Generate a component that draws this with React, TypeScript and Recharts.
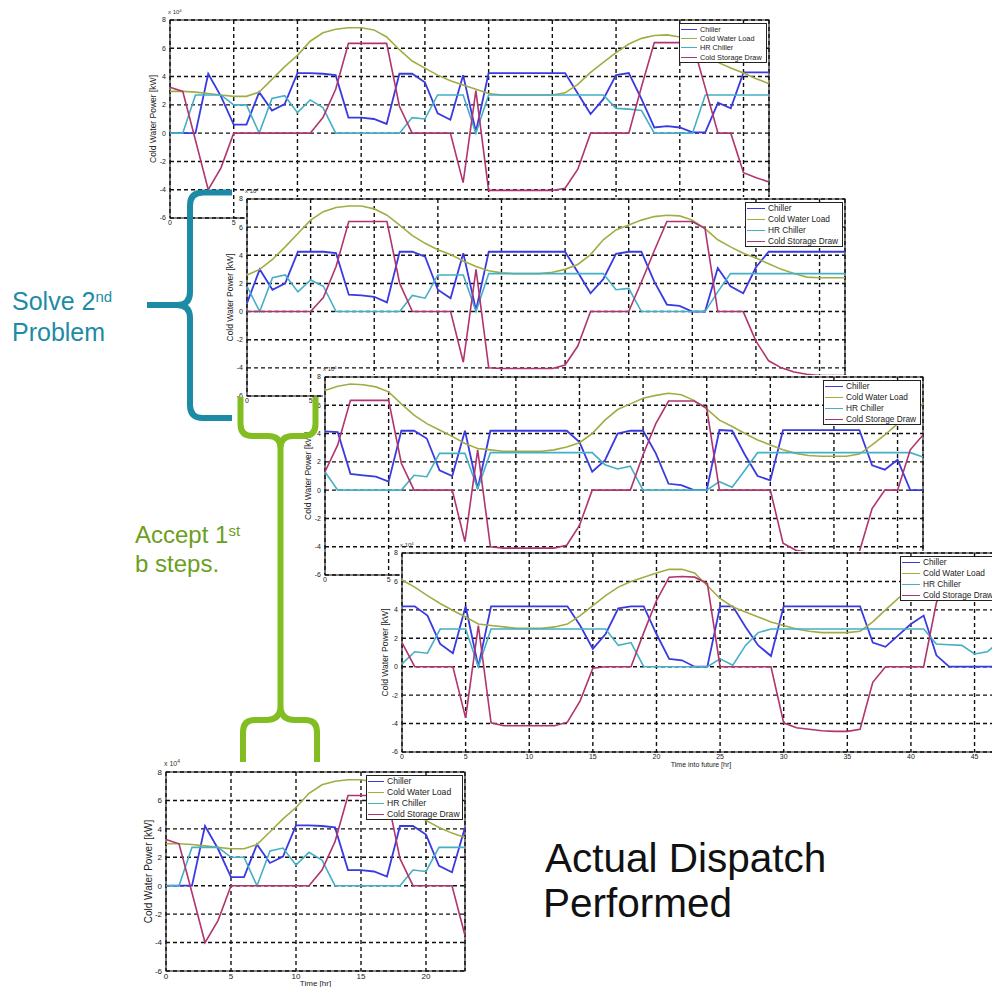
import React from 'react';
import { LineChart, Line, XAxis, YAxis, CartesianGrid, Legend, ReferenceArea } from 'recharts';

// hour index of the 48 h look-ahead windows
const hours = [
  0, 1, 2, 3, 4, 5, 6, 7, 8, 9, 10, 11, 12, 13, 14, 15, 16, 17, 18, 19, 20, 21, 22, 23,
  24, 25, 26, 27, 28, 29, 30, 31, 32, 33, 34, 35, 36, 37, 38, 39, 40, 41, 42, 43, 44, 45, 46, 47,
];

// 1st solve (values x 10^4 kW)
const c1Chiller = [0, 0, 0, 4.2, 2.6, 0.6, 0.6, 2.9, 1.6, 2.05, 4.25, 4.25, 4.2, 4.1, 1.1, 1.1, 1.0, 0.65, 4.2, 4.2, 3.6, 1.4, 0.95, 4.1, 0.1, 4.25, 4.25, 4.25, 4.25, 4.25, 4.25, 4.25, 2.8, 1.35, 2.4, 4.1, 4.25, 2.4, 0.4, 0.5, 0.4, 0.05, 0.05, 2.15, 1.75, 4.3, 4.3, 4.3];
const c1Load = [2.95, 2.95, 2.9, 2.8, 2.7, 2.6, 2.6, 2.9, 3.8, 4.7, 5.5, 6.5, 7.1, 7.35, 7.45, 7.45, 7.3, 6.8, 5.9, 5.1, 4.6, 4.1, 3.7, 3.4, 3.1, 2.8, 2.7, 2.7, 2.7, 2.7, 2.7, 2.85, 3.45, 4.3, 5.0, 5.7, 6.3, 6.7, 6.9, 6.95, 6.8, 6.4, 5.7, 5.0, 4.6, 4.25, 3.85, 3.5];
const c1Hr = [0, 0, 2.7, 2.7, 2.7, 2.0, 2.0, 0, 2.45, 2.65, 1.45, 2.35, 1.8, 0, 0, 0, 0, 0, 0, 1.1, 1.0, 2.7, 2.7, 2.7, 0, 2.7, 2.7, 2.7, 2.7, 2.7, 2.7, 2.7, 2.7, 2.7, 2.7, 1.75, 1.7, 1.6, 0, 0, 0, 0, 2.7, 2.7, 2.7, 2.7, 2.7, 2.7];
const c1Storage = [3.25, 2.95, -0.5, -4.0, -2.45, 0, 0, 0, 0, 0, 0, 0, 1.1, 3.1, 6.35, 6.35, 6.35, 6.35, 1.9, 0, 0, 0, 0, -3.5, 3.0, -4.05, -4.05, -4.05, -4.05, -4.05, -4.05, -3.9, -2.55, 0, 0, 0, 0, 3.3, 6.4, 6.4, 6.4, 6.4, 3.2, 0, 0, -2.8, -3.15, -3.45];

// 2nd solve
const c2Chiller = [0.6, 3.0, 1.55, 2.0, 4.25, 4.25, 4.25, 4.15, 1.2, 1.15, 1.05, 0.65, 4.25, 4.25, 3.9, 1.55, 0.95, 4.15, 0.1, 4.25, 4.25, 4.25, 4.25, 4.25, 4.25, 4.25, 2.8, 1.3, 2.3, 4.1, 4.25, 4.25, 2.15, 0.5, 0.4, 0, 0, 3.1, 1.8, 1.3, 3.15, 4.25, 4.25, 4.25, 4.25, 4.25, 4.25, 4.25];
const c2Load = [2.6, 3.0, 3.7, 4.6, 5.55, 6.5, 7.1, 7.4, 7.5, 7.5, 7.3, 6.85, 6.15, 5.4, 4.85, 4.4, 4.05, 3.6, 3.2, 2.9, 2.75, 2.7, 2.7, 2.7, 2.8, 3.0, 3.35, 4.05, 5.1, 5.8, 6.15, 6.5, 6.75, 6.85, 6.8, 6.5, 5.9, 5.1, 4.6, 4.15, 3.8, 3.4, 3.0, 2.7, 2.45, 2.4, 2.4, 2.4];
const c2Hr = [1.8, 0, 2.4, 2.6, 1.4, 2.25, 1.8, 0, 0, 0, 0, 0, 0, 1.15, 0.95, 2.6, 2.6, 2.6, 0, 2.7, 2.7, 2.7, 2.7, 2.7, 2.7, 2.7, 2.7, 2.7, 2.7, 1.55, 1.65, 0, 0, 0, 0, 0, 0, 1.4, 2.7, 2.7, 2.7, 2.7, 2.7, 2.7, 2.7, 2.7, 2.7, 2.7];
const c2Storage = [0, 0, 0, 0, 0, 0, 1.0, 3.2, 6.4, 6.4, 6.4, 6.4, 2.0, 0, 0, 0, 0, -3.6, 3.0, -4.0, -4.05, -4.05, -4.05, -4.05, -4.05, -3.8, -2.45, 0, 0, 0, 0, 2.1, 4.3, 6.4, 6.4, 6.4, 5.9, 0, 0, 0, -2.1, -3.5, -4.0, -4.3, -4.45, -4.55, -4.55, -4.55];

// 3rd solve
const c3Chiller = [4.15, 4.1, 1.15, 1.05, 0.95, 0.6, 4.2, 4.2, 3.65, 1.4, 1.0, 4.2, 0.1, 4.2, 4.2, 4.2, 4.2, 4.2, 4.2, 4.2, 3.4, 1.3, 2.1, 4.0, 4.2, 4.2, 2.6, 0.45, 0.35, 0, 0, 4.25, 4.2, 2.5, 1.0, 0.7, 4.25, 4.25, 4.25, 4.25, 4.25, 4.25, 4.25, 1.75, 1.45, 2.15, 0, 0];
const c3Load = [7.05, 7.35, 7.5, 7.45, 7.3, 6.95, 6.1, 5.3, 4.7, 4.25, 3.8, 3.3, 2.95, 2.85, 2.75, 2.75, 2.75, 2.75, 2.85, 3.05, 3.35, 4.0, 4.95, 5.7, 6.1, 6.5, 6.7, 6.85, 6.75, 6.35, 5.75, 4.95, 4.5, 4.0, 3.55, 3.2, 2.85, 2.6, 2.45, 2.4, 2.4, 2.4, 2.55, 3.2, 3.9, 4.7, 5.4, 6.1];
const c3Hr = [1.3, 0, 0, 0, 0, 0, 0, 1.05, 0.95, 2.6, 2.6, 2.6, 0.1, 2.65, 2.65, 2.65, 2.65, 2.65, 2.65, 2.65, 2.65, 2.65, 1.8, 1.5, 1.7, 0, 0, 0, 0, 0, 0, 0.6, 0.2, 1.4, 2.65, 2.65, 2.65, 2.65, 2.65, 2.65, 2.65, 2.65, 2.65, 2.65, 2.65, 2.65, 2.65, 2.35];
const c3Storage = [1.3, 3.2, 6.35, 6.35, 6.35, 6.35, 1.9, 0, 0, 0, 0, -3.65, 2.85, -4.0, -4.1, -4.1, -4.1, -4.1, -4.1, -3.9, -2.5, 0, 0, 0, 0, 2.5, 4.7, 6.3, 6.3, 6.3, 5.8, 0, 0, 0, 0, 0, -3.75, -4.25, -4.4, -4.5, -4.5, -4.45, -4.35, -1.3, 0, 0, 2.85, 3.9];

// 4th solve
const c4Chiller = [4.25, 4.25, 3.6, 1.6, 0.95, 4.25, 0, 4.25, 4.25, 4.25, 4.25, 4.25, 4.25, 4.25, 2.9, 1.25, 2.3, 4.1, 4.25, 4.25, 2.3, 0.55, 0.45, 0, 0, 4.25, 4.25, 2.8, 1.5, 0.75, 4.25, 4.25, 4.25, 4.25, 4.25, 4.25, 4.25, 1.7, 1.4, 2.2, 3.0, 3.6, 0.8, 0, 0, 0, 0, 0];
const c4Load = [6.1, 5.6, 5.0, 4.45, 3.95, 3.5, 3.0, 2.9, 2.8, 2.7, 2.7, 2.7, 2.8, 3.0, 3.6, 4.3, 5.0, 5.6, 6.0, 6.3, 6.6, 6.85, 6.85, 6.6, 5.7, 4.8, 4.2, 3.85, 3.5, 3.15, 2.9, 2.65, 2.5, 2.4, 2.4, 2.4, 2.5, 3.15, 4.0, 4.8, 5.5, 6.2, 6.7, 7.0, 7.2, 7.2, 7.1, 6.9];
const c4Hr = [0.2, 1.05, 0.95, 2.65, 2.65, 2.65, 0, 2.65, 2.65, 2.65, 2.65, 2.65, 2.65, 2.65, 2.65, 2.65, 2.65, 1.5, 1.7, 0, 0, 0, 0, 0, 0, 0.55, 0.1, 1.5, 2.4, 2.65, 2.65, 2.65, 2.65, 2.65, 2.65, 2.65, 2.65, 2.65, 2.65, 2.65, 2.65, 2.65, 1.6, 1.55, 1.5, 0.9, 1.05, 1.8];
const c4Storage = [1.7, 0, 0, 0, 0, -3.6, 2.9, -3.95, -4.15, -4.15, -4.15, -4.15, -4.15, -3.9, -2.4, -0.1, 0, 0, 0, 2.4, 4.65, 6.3, 6.35, 6.3, 5.85, 0, 0, 0, 0, 0, -3.95, -4.3, -4.4, -4.5, -4.55, -4.55, -4.4, -1.1, 0, 0, 0, 0, 4.5, 6.3, 6.3, 6.3, 6.3, 6.3];

// actual dispatch = first day of the 1st solve
const dispatchHours = hours.slice(0, 24);

const yTicks = [-6, -4, -2, 0, 2, 4, 6, 8];
const xTicks48 = [0, 5, 10, 15, 20, 25, 30, 35, 40, 45];
const xTicks24 = [0, 5, 10, 15, 20];

const SERIES = [
  { key: 'chiller', name: 'Chiller', color: '#3a3ae2', width: 1.8 },
  { key: 'load', name: 'Cold Water Load', color: '#a0ad44', width: 1.6 },
  { key: 'hr', name: 'HR Chiller', color: '#44afc7', width: 1.6 },
  { key: 'storage', name: 'Cold Storage Draw', color: '#b0346e', width: 1.6 },
];

const FONT = '"Liberation Sans", Arial, Helvetica, sans-serif';
const TEAL = '#1d8ba5';
const LIME = '#82bd22';

const buildRows = (t: number[], a: number[], b: number[], c: number[], d: number[]) =>
  t.map((h, i) => ({ t: h, chiller: a[i], load: b[i], hr: c[i], storage: d[i] }));

type LegendSpec = { w: number; h: number; fs: number; seg: number };

const LegendBox = ({ w, h, fs, seg }: LegendSpec) => {
  const step = (h - 12) / 3;
  return (
    <div style={{ position: 'relative', width: w, height: h, boxSizing: 'border-box', border: '1px solid #222', background: '#fff', fontFamily: FONT }}>
      {SERIES.map((s, i) => (
        <div key={s.key} style={{ position: 'absolute', left: 1, top: i * step, height: 10, display: 'flex', alignItems: 'center', fontSize: fs, color: '#222', whiteSpace: 'nowrap' }}>
          <span style={{ display: 'inline-block', width: seg, height: 0, borderTop: `1.6px solid ${s.color}`, marginRight: 3 }} />
          {s.name}
        </div>
      ))}
    </div>
  );
};

type PanelProps = {
  left: number; top: number; w: number; h: number;
  rows: any[]; xMax: number; xTicks: number[]; xLabel?: string;
  fs: number; labelFs: number; padL: number; expFs: number; legend: LegendSpec;
};

const PAD_T = 12;
const PAD_R = 4;
const PAD_B = 24;

const Panel = (p: PanelProps) => {
  const W = p.padL + p.w + PAD_R;
  const H = PAD_T + p.h + PAD_B;
  return (
    <>
      <div style={{ position: 'absolute', left: p.left - 2, top: p.top - 2, width: p.w + 6, height: p.h + 12, background: '#fff' }} />
      <div style={{ position: 'absolute', left: p.left - p.padL, top: p.top - PAD_T }}>
        <LineChart width={W} height={H} data={p.rows} margin={{ top: PAD_T, right: PAD_R, bottom: 0, left: 0 }}>
          <CartesianGrid stroke="#111" strokeDasharray="4 3" strokeWidth={1.4} />
          <XAxis
            dataKey="t" type="number" domain={[0, p.xMax]} ticks={p.xTicks} interval={0} height={PAD_B}
            tickLine={false} axisLine={false} tickSize={2} tickMargin={0}
            tick={{ fontSize: p.fs, fill: '#222' }}
            label={p.xLabel ? { value: p.xLabel, position: 'insideBottom', offset: 9, fontSize: p.fs, fill: '#222' } : undefined}
          />
          <YAxis
            type="number" domain={[-6, 8]} ticks={yTicks} interval={0} width={p.padL}
            tickLine={false} axisLine={false} tickSize={2} tickMargin={2}
            tick={{ fontSize: p.fs, fill: '#222' }}
            label={{ value: 'Cold Water Power [kW]', angle: -90, position: 'center', fontSize: p.labelFs, fill: '#222' }}
          />
          <ReferenceArea x1={0} x2={p.xMax} y1={-6} y2={8} fill="none" stroke="#111" strokeWidth={1.1} ifOverflow="visible" />
          {SERIES.map((s) => (
            <Line key={s.key} type="linear" dataKey={s.key} name={s.name} stroke={s.color} strokeWidth={s.width} dot={false} activeDot={false} isAnimationActive={false} />
          ))}
          <Legend
            layout="vertical" align="center" verticalAlign="middle"
            wrapperStyle={{ left: p.padL + p.w - p.legend.w - 2, top: PAD_T + 3, width: p.legend.w, height: p.legend.h }}
            content={() => <LegendBox {...p.legend} />}
          />
        </LineChart>
      </div>
      <div style={{ position: 'absolute', left: p.left - 2, top: p.top - 3 - p.expFs * 1.3, fontSize: p.expFs, lineHeight: 1, color: '#333', whiteSpace: 'nowrap' }}>
        x 10<span style={{ fontSize: p.expFs * 0.7, position: 'relative', top: -p.expFs * 0.4 }}>4</span>
      </div>
    </>
  );
};

const smallLegend = { w: 88, h: 40, fs: 7.3, seg: 16 };
const bigLegend = { w: 98, h: 45, fs: 8.3, seg: 18 };

const App = () => {
  return (
    <div style={{ position: 'absolute', left: 0, top: 0, width: 992, height: 987, overflow: 'hidden', background: '#fff', fontFamily: FONT }}>
      <Panel left={170} top={20} w={599} h={198} rows={buildRows(hours, c1Chiller, c1Load, c1Hr, c1Storage)} xMax={47} xTicks={xTicks48} fs={7} labelFs={8.5} padL={34} expFs={6} legend={smallLegend} />
      <Panel left={247} top={199} w={598} h={197} rows={buildRows(hours, c2Chiller, c2Load, c2Hr, c2Storage)} xMax={47} xTicks={xTicks48} fs={7} labelFs={8.5} padL={34} expFs={6} legend={bigLegend} />
      <Panel left={325} top={377} w={598} h={198} rows={buildRows(hours, c3Chiller, c3Load, c3Hr, c3Storage)} xMax={47} xTicks={xTicks48} fs={7} labelFs={8.5} padL={34} expFs={6} legend={bigLegend} />
      <Panel left={402} top={553} w={598} h={199} rows={buildRows(hours, c4Chiller, c4Load, c4Hr, c4Storage)} xMax={47} xTicks={xTicks48} xLabel="Time into future [hr]" fs={7} labelFs={8.5} padL={34} expFs={6} legend={bigLegend} />
      <Panel left={166} top={772} w={299} h={199} rows={buildRows(dispatchHours, c1Chiller, c1Load, c1Hr, c1Storage)} xMax={23} xTicks={xTicks24} xLabel="Time [hr]" fs={8} labelFs={10} padL={36} expFs={7} legend={{ w: 97, h: 45, fs: 8.6, seg: 16 }} />

      <svg width={992} height={987} style={{ position: 'absolute', left: 0, top: 0, pointerEvents: 'none' }}>
        <path d="M232 192.5 L203 192.5 Q190 192.5 190 205.5 L190 292 Q190 305 177 305 L147 305 M177 305 Q190 305 190 318 L190 405 Q190 418 203 418 L232 418" fill="none" stroke={TEAL} strokeWidth={6} />
        <path d="M240.5 397 L240.5 424 Q240.5 436 252.5 436 L268 436 Q280.5 436 280.5 448 L280.5 706 Q280.5 720 266 720 L255 720 Q243 720 243 732 L243 762 M315.5 397 L315.5 424 Q315.5 436 303.5 436 L293 436 Q280.5 436 280.5 448 M280.5 706 Q280.5 720 295 720 L305 720 Q317 720 317 732 L317 762" fill="none" stroke={LIME} strokeWidth={6} />
        <text x={12} y={310} fill={TEAL} fontSize={25} fontFamily={FONT}>Solve 2<tspan dy={-8} fontSize={15}>nd</tspan></text>
        <text x={12} y={341} fill={TEAL} fontSize={25} fontFamily={FONT}>Problem</text>
        <text x={135} y={543} fill="#6c9e1e" fontSize={24} fontFamily={FONT}>Accept 1<tspan dy={-7} fontSize={15}>st</tspan></text>
        <text x={135} y={572} fill="#6c9e1e" fontSize={24} fontFamily={FONT}>b steps.</text>
        <text x={545} y={872} fill="#111" fontSize={40.5} fontFamily={FONT}>Actual Dispatch</text>
        <text x={543} y={917} fill="#111" fontSize={40.5} fontFamily={FONT}>Performed</text>
      </svg>
    </div>
  );
};

export default App;
